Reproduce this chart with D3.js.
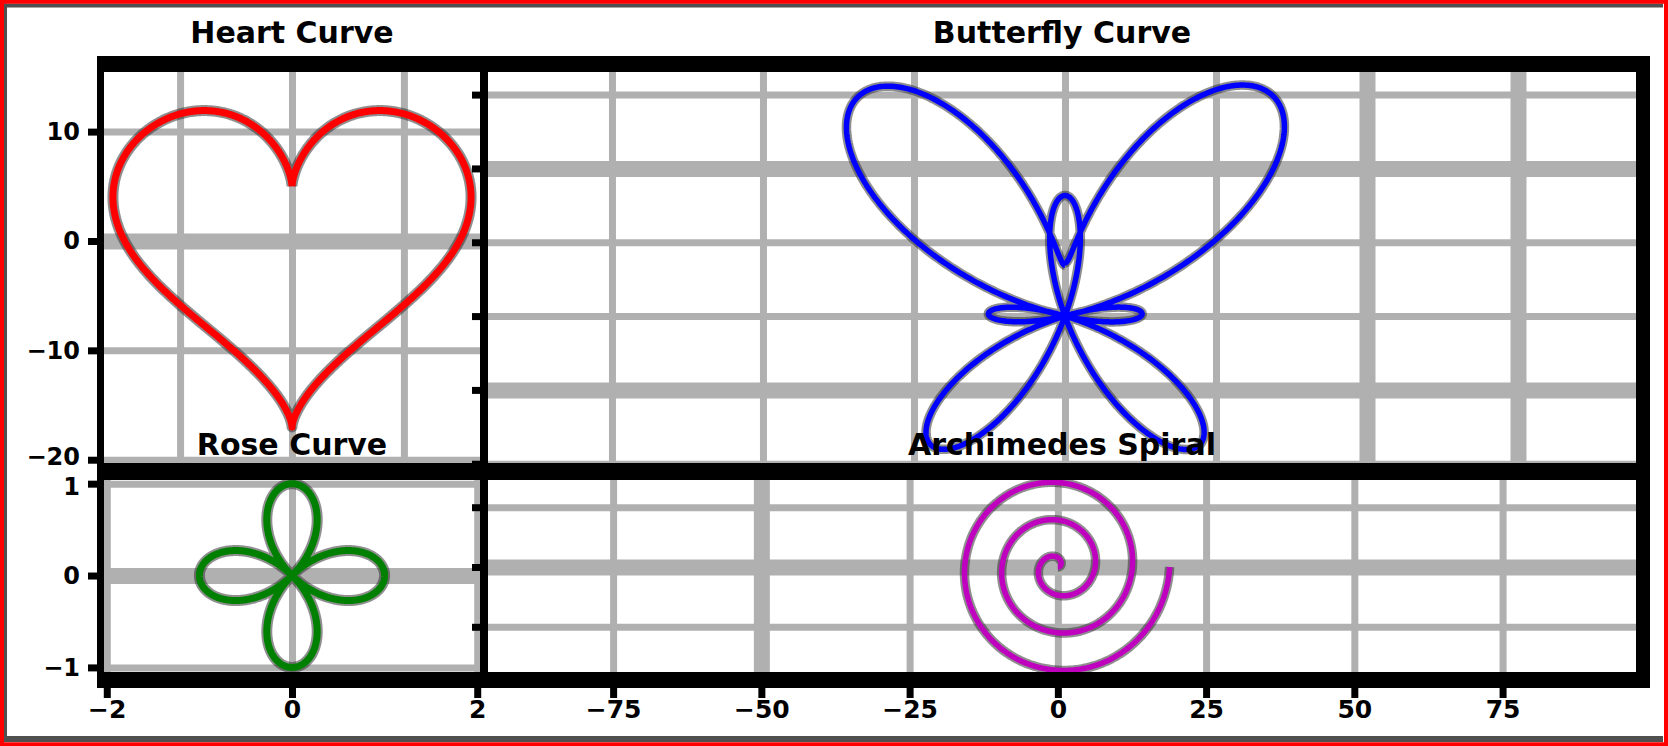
<!DOCTYPE html>
<html><head><meta charset="utf-8">
<script src="https://cdn.jsdelivr.net/npm/d3@7"></script>
<style>html,body{margin:0;padding:0;background:#fff;overflow:hidden}</style>
</head><body>
<svg id="chart" width="1668" height="746"></svg>
<script>
// ---------- data ----------
const panelTitles = ["Heart Curve", "Butterfly Curve", "Rose Curve", "Archimedes Spiral"];
const heartXTicks = [-10, 0, 10];
const heartYTicks = [10, 0, -10, -20];
const butterflyXTicks = [-6, -4, -2, 0, 2, 4, 6];
const butterflyYTicks = [3, 2, 1, 0, -1, -2];
const roseXTicks = [-2, 0, 2];
const roseYTicks = [1, 0, -1];
const spiralXTicks = [-75, -50, -25, 0, 25, 50, 75];
const spiralYTicks = [10, 0, -10];
// named-curve parameters (heart: 16 sin^3 t, 13cos t - 5cos2t - 2cos3t - cos4t)
const heartAmp = [16];
const heartCos = [13, -5, -2, -1];
const butterflyTSpan = [0, 2];     // in multiples of pi
const roseK = [2];                  // r = cos(k*theta)
const spiralTurns = [3];            // r = theta, theta in [0, 2*pi*turns]
const nSamples = 1200;

// ---------- curve points from the named equations ----------
const tAll = (a, b) => d3.range(nSamples + 1).map(i => a + (b - a) * i / nSamples);
const heartPts = tAll(0, 2 * Math.PI).map(t => [
  heartAmp[0] * Math.pow(Math.sin(t), 3),
  heartCos.reduce((s, c, i) => s + c * Math.cos((i + 1) * t), 0)
]);
const butterflyPts = tAll(butterflyTSpan[0] * Math.PI, butterflyTSpan[1] * Math.PI).map(t => {
  const r = Math.exp(Math.cos(t)) - 2 * Math.cos(4 * t) - Math.pow(Math.sin(t / 12), 5);
  return [Math.sin(t) * r, Math.cos(t) * r];
});
const rosePts = tAll(0, 2 * Math.PI).map(t => {
  const r = Math.cos(roseK[0] * t);
  return [r * Math.cos(t), r * Math.sin(t)];
});
const spiralPts = tAll(0, 2 * Math.PI * spiralTurns[0]).map(t => [t * Math.cos(t), t * Math.sin(t)]);

// ---------- layout ----------
const svg = d3.select("#chart");
svg.append("rect").attr("width", 1668).attr("height", 746).attr("fill", "#fff");

const panels = [
  { key: "heart", box: [104, 480, 72, 463], xd: [-16.8, 16.8], yd: [-20.3, 15.45],
    xt: heartXTicks, yt: heartYTicks, pts: heartPts, color: "#ff0000", lw: 7,
    thickX: [], thickY: [0] },
  { key: "butterfly", box: [488, 1636, 72, 463], xd: [-7.642, 7.563], yd: [-1.99, 3.306],
    xt: butterflyXTicks, yt: butterflyYTicks, pts: butterflyPts, color: "#0000ff", lw: 5.5,
    thickX: [4, 6], thickY: [2, -1] },
  { key: "rose", box: [104, 480, 480, 672], xd: [-2.03, 2.03], yd: [-1.05, 1.04],
    xt: roseXTicks, yt: roseYTicks, pts: rosePts, color: "#008000", lw: 7,
    thickX: [], thickY: [0] },
  { key: "spiral", box: [488, 1636, 480, 672], xd: [-96.1, 97.5], yd: [-17.56, 14.55],
    xt: spiralXTicks, yt: spiralYTicks, pts: spiralPts, color: "#bf00bf", lw: 5.5,
    thickX: [-50], thickY: [0] }
];

const defs = svg.append("defs");
panels.forEach(p => {
  const [x0, x1, y0, y1] = p.box;
  p.x = d3.scaleLinear().domain(p.xd).range([x0, x1]);
  p.y = d3.scaleLinear().domain(p.yd).range([y1, y0]);
  defs.append("clipPath").attr("id", "clip-" + p.key)
    .append("rect").attr("x", x0).attr("y", y0).attr("width", x1 - x0).attr("height", y1 - y0);
});

// grids
panels.forEach(p => {
  const [x0, x1, y0, y1] = p.box;
  const g = svg.append("g").attr("clip-path", `url(#clip-${p.key})`);
  const gx = g.append("g").attr("transform", `translate(0,${y1})`)
    .call(d3.axisBottom(p.x).tickValues(p.xt).tickSize(-(y1 - y0)).tickFormat(""));
  const gy = g.append("g").attr("transform", `translate(${x0},0)`)
    .call(d3.axisLeft(p.y).tickValues(p.yt).tickSize(-(x1 - x0)).tickFormat(""));
  [gx, gy].forEach(a => a.select(".domain").remove());
  gx.selectAll(".tick line").attr("stroke", "#b0b0b0")
    .attr("stroke-width", d => p.thickX.includes(d) ? 16 : 7);
  gy.selectAll(".tick line").attr("stroke", "#b0b0b0")
    .attr("stroke-width", d => p.thickY.includes(d) ? 16 : 7);
});

// curves
panels.forEach(p => {
  const g = svg.append("g").attr("clip-path", `url(#clip-${p.key})`);
  const line = d3.line().x(d => p.x(d[0])).y(d => p.y(d[1]));
  g.append("path").datum(p.pts).attr("d", line).attr("fill", "none")
    .attr("stroke", "#333").attr("stroke-opacity", 0.55).attr("stroke-width", p.lw + 4)
    .attr("stroke-linejoin", "round");
  g.append("path").datum(p.pts).attr("d", line).attr("fill", "none")
    .attr("stroke", p.color).attr("stroke-width", p.lw).attr("stroke-linejoin", "round");
});

// spines
const spines = [
  [97, 56, 1650, 72], [97, 56, 104, 688], [480, 56, 488, 688],
  [1636, 56, 1650, 688], [97, 463, 1650, 480], [97, 672, 1650, 688]
];
svg.append("g").selectAll("rect").data(spines).join("rect")
  .attr("x", d => d[0]).attr("y", d => d[1])
  .attr("width", d => d[2] - d[0]).attr("height", d => d[3] - d[1]).attr("fill", "#000");

// tick marks and labels
const font = "DejaVu Sans, Liberation Sans, sans-serif";
function styleAxis(a, size) {
  a.select(".domain").remove();
  a.selectAll(".tick line").attr("stroke", "#000").attr("stroke-width", 7);
  a.selectAll(".tick text").attr("fill", "#000").attr("font-family", font)
    .attr("font-weight", "bold").attr("font-size", size);
}
const fmt = d => d < 0 ? "\u2212" + Math.abs(d) : String(d);
// left labelled axes (heart, rose)
const heartAxis = svg.append("g").attr("transform", `translate(97,0)`)
  .call(d3.axisLeft(panels[0].y).tickValues(heartYTicks).tickSize(9).tickPadding(8).tickFormat(fmt));
styleAxis(heartAxis, 24);
const roseAxis = svg.append("g").attr("transform", `translate(97,0)`)
  .call(d3.axisLeft(panels[2].y).tickValues(roseYTicks).tickSize(9).tickPadding(8).tickFormat(fmt));
styleAxis(roseAxis, 24);
// the two crowded labels at the panel junction are nudged apart
heartAxis.selectAll(".tick text").filter(d => d === heartYTicks[heartYTicks.length - 1])
  .attr("transform", "translate(0,-3)");
roseAxis.selectAll(".tick text").filter(d => d === roseYTicks[0])
  .attr("transform", "translate(0,3)");
// left unlabelled ticks (butterfly, spiral)
[panels[1], panels[3]].forEach(p => {
  const a = svg.append("g").attr("transform", `translate(480,0)`)
    .call(d3.axisLeft(p.y).tickValues(p.yt).tickSize(8).tickFormat(""));
  styleAxis(a, 24);
});
// bottom labelled axes (rose, spiral)
[panels[2], panels[3]].forEach(p => {
  const a = svg.append("g").attr("transform", `translate(0,688)`)
    .call(d3.axisBottom(p.x).tickValues(p.xt).tickSize(10).tickPadding(2).tickFormat(fmt));
  styleAxis(a, 25);
});

// titles
const titlePos = [[292, 43], [1062, 43], [292, 455], [1062, 455]];
svg.append("g").selectAll("text").data(panelTitles).join("text")
  .attr("x", (d, i) => titlePos[i][0]).attr("y", (d, i) => titlePos[i][1])
  .attr("text-anchor", "middle").attr("font-family", font).attr("font-weight", "bold")
  .attr("font-size", 30).attr("fill", "#000").text(d => d);

// outer frame
svg.append("rect").attr("x", 4).attr("y", 3.5).attr("width", 3).attr("height", 738).attr("fill", "#505050");
svg.append("rect").attr("x", 4).attr("y", 3.5).attr("width", 1659).attr("height", 4).attr("fill", "#505050");
svg.append("rect").attr("x", 4).attr("y", 736).attr("width", 1659).attr("height", 6).attr("fill", "#505050");
svg.append("rect").attr("x", 2).attr("y", 1.75).attr("width", 1664).attr("height", 742.5)
  .attr("fill", "none").attr("stroke", "#ff0000").attr("stroke-width", 4);
</script>
</body></html>
